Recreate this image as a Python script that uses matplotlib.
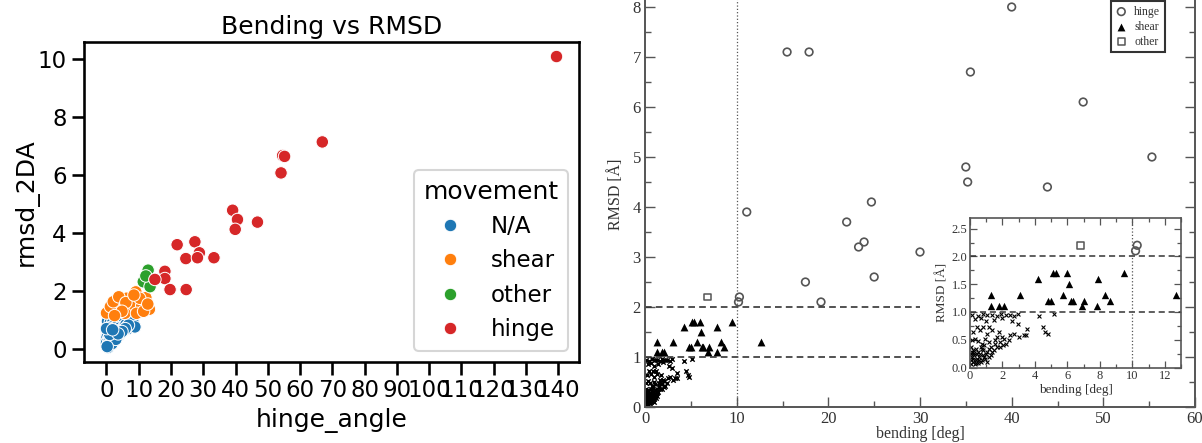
import matplotlib
matplotlib.use('Agg')
import matplotlib.pyplot as plt
import matplotlib.ticker as mticker
import pandas as pd
import seaborn as sns

# ---- left panel data (hinge_angle vs rmsd_2DA, by movement) ----
na_x = [0.0, 0.5, 0.8, 2.6, 5.0, 7.6, 7.3, 0.3, 1.2, 1.8, 2.2, 3.0, 3.5, 4.1, 4.6,
        5.5, 6.0, 6.6, 8.2, 8.8, 0.2, 0.6, 1.0, 1.5, 2.0, 2.8, 3.3, 4.0, 0.1, 0.4,
        0.9, 1.4, 2.4, 3.8, 5.2, 6.2, 0.0, 0.7, 1.1, 1.6, 2.5, 3.1, 4.4, 0.3, 0.8,
        1.3, 2.1, 0.5, 1.7, 2.9, 0.2, 1.0, 6.8, 5.8, 4.8, 3.6, 0.0, 1.9]
na_y = [0.32, 0.43, 0.15, 0.38, 0.89, 1.00, 0.86, 0.95, 0.92, 0.88, 0.80, 0.75,
        0.68, 0.72, 0.66, 0.78, 0.84, 0.70, 0.92, 0.76, 0.60, 0.72, 0.65, 0.58,
        0.55, 0.62, 0.50, 0.48, 0.45, 0.52, 0.40, 0.46, 0.44, 0.58, 0.63, 0.74,
        0.20, 0.25, 0.30, 0.35, 0.28, 0.42, 0.55, 0.10, 0.12, 0.22, 0.30, 0.05,
        0.18, 0.33, 0.08, 0.50, 0.82, 0.70, 0.60, 0.52, 0.70, 0.66]
shear_x = [0.0, 4.3, 7.8, 12.2, 9.1, 3.1, 7.6, 10.9, 13.3, 1.2, 6.2, 10.3, 5.7,
           9.3, 2.1, 3.8, 6.0, 8.5, 11.5, 4.8, 2.5, 12.8]
shear_y = [1.24, 1.77, 1.63, 1.77, 1.97, 1.35, 1.48, 1.48, 1.37, 1.46, 1.75,
           1.75, 1.23, 1.23, 1.63, 1.80, 1.60, 1.86, 1.30, 1.30, 1.15, 1.55]
other_x = [12.9, 11.4, 13.5, 12.2]
other_y = [2.72, 2.32, 2.15, 2.52]
hinge_x = [139.5, 66.9, 54.6, 55.2, 54.1, 39.1, 40.6, 39.9, 46.8, 21.9, 27.4,
           24.6, 28.8, 28.2, 33.3, 18.1, 18.1, 15.0, 19.7, 24.7]
hinge_y = [10.1, 7.15, 6.68, 6.65, 6.08, 4.79, 4.47, 4.13, 4.38, 3.60, 3.70,
           3.12, 3.32, 3.15, 3.15, 2.68, 2.43, 2.40, 2.05, 2.05]

# ---- right panel data (bending vs RMSD, scanned figure) ----
r_hinge_x = [40.0, 15.5, 17.9, 35.5, 47.8, 55.3, 35.0, 35.2, 43.9, 24.7, 11.1,
             22.0, 23.9, 23.3, 30.0, 25.0, 17.5, 19.2, 10.3, 10.2]
r_hinge_y = [8.0, 7.1, 7.1, 6.7, 6.1, 5.0, 4.8, 4.5, 4.4, 4.1, 3.9, 3.7, 3.3,
             3.2, 3.1, 2.6, 2.5, 2.1, 2.2, 2.1]
r_shear_x = [1.3, 1.3, 1.8, 2.1, 3.1, 4.2, 4.8, 5.0, 5.1, 5.3, 5.7, 6.0, 6.1,
             6.2, 6.35, 6.9, 7.0, 7.8, 7.9, 8.3, 8.6, 9.5, 12.7]
r_shear_y = [1.3, 1.1, 1.1, 1.1, 1.3, 1.6, 1.2, 1.2, 1.7, 1.7, 1.3, 1.7, 1.5,
             1.2, 1.2, 1.1, 1.2, 1.1, 1.6, 1.3, 1.2, 1.7, 1.3]
r_other_x = [6.8]
r_other_y = [2.2]
r_na_x = [0.15, 0.48, 0.79, 1.07, 1.34, 1.65, 1.9, 2.23, 2.44, 2.69, 2.93,
          0.31, 0.66, 0.99, 1.45, 1.96, 2.58, 2.93, 4.24, 4.48, 4.65, 4.81, 5.17,
          3.51, 3.47, 3.3, 3.0, 2.69, 2.38, 2.48, 2.23, 1.96, 1.76, 1.65, 1.55,
          1.34, 1.2, 1.03, 0.83, 0.62, 0.41, 0.21, 0.1, 0.31, 0.52, 0.72, 0.93,
          1.14, 1.3, 1.45, 1.65, 1.86, 2.07, 0.06, 0.21, 0.37, 0.52, 0.66, 0.83,
          0.99, 1.14, 1.28, 0.04, 0.14, 0.27, 0.41, 0.58, 0.72, 0.87, 1.03, 0.08,
          0.21, 0.35, 0.52, 0.66, 0.04, 0.17, 0.31, 0.12, 0.25, 0.45, 0.56, 0.79,
          0.93, 0.39, 0.62, 0.76, 0.89, 1.07, 1.2, 1.36, 1.51, 1.82, 2.02]
r_na_y = [0.95, 0.93, 0.96, 0.94, 0.95, 0.93, 0.97, 0.94, 0.95, 0.93, 0.96,
          0.87, 0.89, 0.83, 0.86, 0.90, 0.83, 0.78, 0.92, 0.73, 0.64, 0.60, 0.96,
          0.69, 0.58, 0.58, 0.55, 0.61, 0.49, 0.58, 0.42, 0.55, 0.64, 0.55, 0.43,
          0.67, 0.73, 0.61, 0.73, 0.67, 0.73, 0.64, 0.49, 0.52, 0.48, 0.43, 0.51,
          0.46, 0.37, 0.31, 0.37, 0.46, 0.52, 0.37, 0.31, 0.34, 0.28, 0.37, 0.31,
          0.25, 0.34, 0.22, 0.25, 0.19, 0.22, 0.16, 0.19, 0.13, 0.19, 0.10, 0.13,
          0.10, 0.13, 0.08, 0.10, 0.07, 0.16, 0.07, 0.28, 0.27, 0.24, 0.14, 0.22,
          0.16, 0.08, 0.25, 0.34, 0.40, 0.28, 0.19, 0.28, 0.49, 0.37, 0.40]

movement_order = ['N/A', 'shear', 'other', 'hinge']
movement_colors = ['#1f77b4', '#ff7f0e', '#2ca02c', '#d62728']

df = pd.DataFrame({
    'hinge_angle': na_x + shear_x + other_x + hinge_x,
    'rmsd_2DA': na_y + shear_y + other_y + hinge_y,
    'movement': (['N/A'] * len(na_x) + ['shear'] * len(shear_x)
                 + ['other'] * len(other_x) + ['hinge'] * len(hinge_x)),
})

sns.set_theme(context='talk', style='ticks')
plt.rcParams['font.family'] = ['DejaVu Sans']
plt.rcParams.update({'axes.edgecolor': 'black', 'xtick.color': 'black',
                     'ytick.color': 'black', 'text.color': 'black',
                     'axes.labelcolor': 'black'})

fig = plt.figure(figsize=(12.02, 4.43), dpi=100)

# left: seaborn scatter
ax1 = fig.add_axes([84 / 1202, 81 / 443, 495 / 1202, 320 / 443])
sns.scatterplot(data=df, x='hinge_angle', y='rmsd_2DA', hue='movement',
                hue_order=movement_order, palette=movement_colors, ax=ax1)
ax1.set_xticks(range(0, 150, 10))
ax1.set_title('Bending vs RMSD')
ax1.yaxis.labelpad = -1
sns.move_legend(ax1, 'lower right')

# right: the paper figure
serif = 'Liberation Serif'
grey = '#555555'
txt = '#333333'

ax2 = fig.add_axes([645 / 1202, 36 / 443, 550 / 1202, 425 / 443])
ax2.hlines([1, 2], 0, 30, colors='#333333', linestyles=(0, (4, 2.5)), lw=1.2)
ax2.axvline(10, color=grey, ls=':', lw=0.9)
ax2.scatter(r_na_x, r_na_y, marker='x', color='black', s=10, lw=1.0)
h1 = ax2.scatter(r_hinge_x, r_hinge_y, marker='o', facecolors='none',
                 edgecolors=grey, s=30, lw=1.2, label='hinge')
h2 = ax2.scatter(r_shear_x, r_shear_y, marker='^', color='black', s=32,
                 lw=0, label='shear')
h3 = ax2.scatter(r_other_x, r_other_y, marker='s', facecolors='none',
                 edgecolors=grey, s=24, lw=1.1, label='other')
ax2.set_xlim(0, 60)
ax2.set_ylim(0, 8.5)
ax2.xaxis.set_major_locator(mticker.MultipleLocator(10))
ax2.xaxis.set_minor_locator(mticker.MultipleLocator(5))
ax2.yaxis.set_major_locator(mticker.MultipleLocator(1))
ax2.yaxis.set_minor_locator(mticker.MultipleLocator(0.5))
ax2.tick_params(which='both', direction='in', left=True, right=True,
                top=True, bottom=True, colors=grey, labelcolor=txt,
                labelsize=12, width=1.0)
ax2.tick_params(which='major', length=7, pad=3)
ax2.tick_params(which='minor', length=4)
for lab in ax2.get_xticklabels() + ax2.get_yticklabels():
    lab.set_family(serif)
for sp in ax2.spines.values():
    sp.set_color(grey)
    sp.set_linewidth(1.4)
ax2.set_xlabel('bending [deg]', family=serif, fontsize=11.5, color=txt,
               labelpad=-1)
ax2.set_ylabel('RMSD [Å]', family=serif, fontsize=11.5, color=txt,
               labelpad=6)
ax2.legend(handles=[h1, h2, h3], loc='upper right',
           bbox_to_anchor=(1165 / 1202, 1 - 1 / 443),
           bbox_transform=fig.transFigure, borderaxespad=0,
           prop={'family': serif, 'size': 8.5}, fancybox=False,
           edgecolor='#333333', framealpha=1, handlelength=1.0,
           handletextpad=0.6, labelspacing=0.25, borderpad=0.4,
           labelcolor=txt)

# inset
ax3 = fig.add_axes([970 / 1202, 75.5 / 443, 211 / 1202, 150 / 443])
ax3.axhline(1, color='#333333', ls=(0, (4, 2.5)), lw=1.1)
ax3.axhline(2, color='#333333', ls=(0, (4, 2.5)), lw=1.1)
ax3.axvline(10, color=grey, ls=':', lw=0.9)
ax3.scatter(r_na_x, r_na_y, marker='x', color='black', s=8, lw=0.8)
ax3.scatter(r_hinge_x, r_hinge_y, marker='o', facecolors='none',
            edgecolors=grey, s=30, lw=1.2)
ax3.scatter(r_shear_x, r_shear_y, marker='^', color='black', s=28, lw=0)
ax3.scatter(r_other_x, r_other_y, marker='s', facecolors='none',
            edgecolors=grey, s=24, lw=1.1)
ax3.set_xlim(0, 13)
ax3.set_ylim(0, 2.7)
ax3.xaxis.set_major_locator(mticker.MultipleLocator(2))
ax3.xaxis.set_minor_locator(mticker.MultipleLocator(1))
ax3.yaxis.set_major_locator(mticker.MultipleLocator(0.5))
ax3.yaxis.set_minor_locator(mticker.MultipleLocator(0.25))
ax3.yaxis.set_major_formatter(mticker.FormatStrFormatter('%.1f'))
ax3.tick_params(which='both', direction='in', left=True, right=True,
                top=True, bottom=True, colors=grey, labelcolor=txt,
                labelsize=9, width=0.9)
ax3.tick_params(which='major', length=5, pad=2)
ax3.tick_params(which='minor', length=3)
for lab in ax3.get_xticklabels() + ax3.get_yticklabels():
    lab.set_family(serif)
for sp in ax3.spines.values():
    sp.set_color(grey)
    sp.set_linewidth(1.2)
ax3.set_xlabel('bending [deg]', family=serif, fontsize=9.5, color=txt,
               labelpad=1)
ax3.set_ylabel('RMSD [Å]', family=serif, fontsize=9.5, color=txt,
               labelpad=2)

fig.savefig('out.png', dpi=100)
